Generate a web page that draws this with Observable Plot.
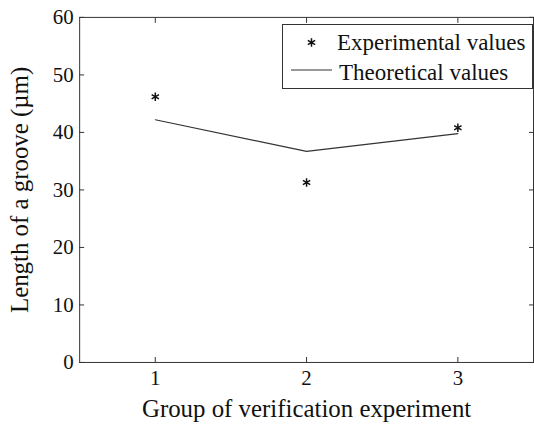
<!DOCTYPE html>
<html><head><meta charset="utf-8">
<script src="https://cdn.jsdelivr.net/npm/d3@7"></script>
<script src="https://cdn.jsdelivr.net/npm/@observablehq/plot@0.6"></script>
<style>
html,body{margin:0;padding:0;background:#fff;overflow:hidden;}
#wrap{position:relative;width:534px;height:427px;overflow:hidden;}
#wrap svg{display:block;}
</style></head><body><div id="wrap"></div>
<script>
const groups = [1, 2, 3];
const experimental = [46.2, 31.3, 40.8];
const theoretical = [42.2, 36.7, 39.8];
const yTicks = [0, 10, 20, 30, 40, 50, 60];
const xTicks = [1, 2, 3];
const xLabel = "Group of verification experiment";
const yLabel = "Length of a groove (µm)";
const legendLabels = ["Experimental values", "Theoretical values"];

const expData = groups.map((g, i) => ({group: g, value: experimental[i]}));
const theoData = groups.map((g, i) => ({group: g, value: theoretical[i]}));

const axisColor = "#333";
const textColor = "#111";
const font = "'Liberation Serif', 'Times New Roman', serif";
const fmt = d => String(d);

const chart = Plot.plot({
  width: 537, height: 427,
  marginLeft: 79.6, marginRight: 1, marginTop: 17, marginBottom: 63,
  style: {fontFamily: font, fontSize: "20px", color: textColor, background: "#fff", overflow: "visible"},
  x: {domain: [0.5, 3.5]},
  y: {domain: [0, 60]},
  marks: [
    Plot.frame({stroke: axisColor}),
    Plot.axisX(xTicks, {anchor: "bottom", tickSize: 0, tickPadding: 8, tickFormat: fmt, label: null, fontSize: 21, fill: textColor}),
    Plot.axisX(xTicks, {anchor: "bottom", tickSize: -5, tickFormat: () => "", label: null, stroke: axisColor}),
    Plot.axisX(xTicks, {anchor: "top", tickSize: -5, tickFormat: () => "", label: null, stroke: axisColor}),
    Plot.axisY(yTicks, {anchor: "left", tickSize: 0, tickPadding: 6, tickFormat: fmt, label: null, fontSize: 21, fill: textColor}),
    Plot.axisY(yTicks, {anchor: "left", tickSize: -5, tickFormat: () => "", label: null, stroke: axisColor}),
    Plot.axisY(yTicks, {anchor: "right", tickSize: -5, tickFormat: () => "", label: null, stroke: axisColor}),
    Plot.text([xLabel], {frameAnchor: "bottom", dy: 55, fontSize: 25, fill: textColor}),
    Plot.text([yLabel], {frameAnchor: "left", textAnchor: "middle", dx: -59.6, rotate: -90, fontSize: 25, fill: textColor}),
    Plot.line(theoData, {x: "group", y: "value", stroke: axisColor, strokeWidth: 1.2}),
    Plot.dot(expData, {x: "group", y: "value", symbol: "asterisk", r: 4, stroke: textColor, strokeWidth: 1.5})
  ]
});
const wrap = document.getElementById("wrap");
wrap.appendChild(chart);

// Legend
const lw = 250, lh = 64;
const leg = d3.create("svg").attr("width", lw + 1).attr("height", lh + 1)
  .style("position", "absolute").style("left", "281.5px").style("top", "24px");
leg.append("rect").attr("x", 0.5).attr("y", 0.5).attr("width", lw).attr("height", lh)
  .attr("fill", "#fff").attr("stroke", axisColor);
leg.append("path").attr("d", d3.symbol(d3.symbolAsterisk, 50)()).attr("transform", "translate(29.5,18.5)")
  .attr("fill", "none").attr("stroke", textColor).attr("stroke-width", 1.5);
leg.append("line").attr("x1", 9).attr("x2", 50).attr("y1", 46).attr("y2", 46)
  .attr("stroke", axisColor).attr("stroke-width", 1.2);
legendLabels.forEach((t, i) => {
  leg.append("text").attr("x", i === 0 ? 55 : 57).attr("y", i === 0 ? 26 : 56)
    .attr("font-family", font).attr("font-size", 23).attr("fill", textColor).text(t);
});
wrap.appendChild(leg.node());
</script></body></html>
